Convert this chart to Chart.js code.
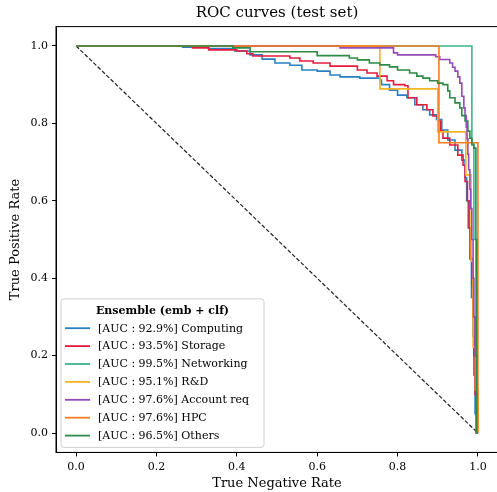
<!DOCTYPE html>
<html>
<head>
<meta charset="utf-8">
<script src="https://cdn.jsdelivr.net/npm/chart.js@4.4.1/dist/chart.umd.min.js"></script>
<style>
html, body { margin: 0; padding: 0; background: #fff; overflow: hidden; }
</style>
</head>
<body>
<canvas id="roc" width="500" height="492"></canvas>
<script>
// ROC points as [true negative rate, true positive rate]
const computing = [[0,1],[0.265,0.997],[0.33,0.993],[0.395,0.987],[0.433,0.977],[0.463,0.966],[0.495,0.956],[0.532,0.95],[0.562,0.938],[0.60,0.935],[0.632,0.925],[0.657,0.92],[0.706,0.917],[0.756,0.912],[0.76,0.90],[0.78,0.886],[0.80,0.873],[0.823,0.866],[0.843,0.848],[0.863,0.835],[0.88,0.822],[0.897,0.81],[0.91,0.783],[0.925,0.757],[0.943,0.731],[0.96,0.705],[0.968,0.66],[0.972,0.6],[0.976,0.53],[0.98,0.45],[0.984,0.35],[0.988,0.25],[0.99,0.15],[0.993,0.05],[0.996,0],[1,0]];
const storage = [[0,1],[0.29,0.995],[0.33,0.99],[0.40,0.987],[0.425,0.98],[0.44,0.974],[0.532,0.969],[0.557,0.961],[0.59,0.956],[0.632,0.948],[0.70,0.938],[0.724,0.93],[0.749,0.922],[0.774,0.91],[0.79,0.90],[0.818,0.897],[0.826,0.866],[0.848,0.848],[0.873,0.835],[0.888,0.819],[0.90,0.806],[0.907,0.78],[0.913,0.762],[0.93,0.744],[0.95,0.718],[0.963,0.692],[0.968,0.65],[0.974,0.6],[0.978,0.53],[0.982,0.45],[0.985,0.38],[0.988,0.3],[0.99,0.2],[0.993,0.1],[0.996,0],[1,0]];
const networking = [[0,1],[0.985,0.75],[0.99,0.5],[0.995,0.2],[0.998,0],[1,0]];
const rnd = [[0,1],[0.756,0.889],[0.90,0.778],[0.97,0.667],[0.983,0.444],[0.988,0.222],[0.994,0.111],[1,0]];
const accountReq = [[0,1],[0.657,0.995],[0.79,0.982],[0.80,0.977],[0.895,0.972],[0.905,0.965],[0.93,0.956],[0.937,0.945],[0.943,0.935],[0.95,0.92],[0.955,0.904],[0.96,0.87],[0.965,0.84],[0.968,0.82],[0.971,0.79],[0.973,0.76],[0.975,0.72],[0.977,0.68],[0.98,0.63],[0.982,0.58],[0.985,0.5],[0.988,0.4],[0.99,0.3],[0.993,0.2],[0.996,0.1],[0.998,0],[1,0]];
const hpc = [[0,1],[0.903,0.75],[1,0]];
const others = [[0,1],[0.39,0.995],[0.433,0.985],[0.60,0.975],[0.68,0.969],[0.70,0.964],[0.73,0.956],[0.756,0.951],[0.78,0.946],[0.80,0.938],[0.83,0.93],[0.848,0.922],[0.863,0.917],[0.88,0.91],[0.90,0.904],[0.913,0.90],[0.925,0.884],[0.93,0.866],[0.943,0.853],[0.955,0.84],[0.96,0.82],[0.968,0.806],[0.975,0.78],[0.98,0.762],[0.985,0.744],[0.99,0.736],[0.995,0.5],[0.997,0],[1,0]];
const diagonal = [[0,1],[1,0]];

const seriesLabels = ['[AUC : 92.9%] Computing','[AUC : 93.5%] Storage','[AUC : 99.5%] Networking','[AUC : 95.1%] R&D','[AUC : 97.6%] Account req','[AUC : 97.6%] HPC','[AUC : 96.5%] Others'];
const seriesData = [computing, storage, networking, rnd, accountReq, hpc, others];
const seriesColors = ['#2a80c2','#e31c3d','#3bb58e','#f6b422','#9549b8','#f57c21','#2f8a45'];
const legendTitle = 'Ensemble (emb + clf)';

const FONT = "'DejaVu Serif', 'Liberation Serif', serif";

function toXY(arr){
    return arr.map(p => ({x: p[0], y: p[1]}));
}

const datasets = [{
    label: 'chance',
    data: toXY(diagonal),
    borderColor: '#222',
    borderWidth: 1.2,
    borderDash: [4, 2],
    pointRadius: 0,
    order: 10
}];
seriesData.forEach((d, i) => {
    datasets.push({
        label: seriesLabels[i],
        data: toXY(d),
        borderColor: seriesColors[i],
        borderWidth: 1.6,
        pointRadius: 0,
        stepped: 'before',   // horizontal first, then drop
        fill: false,
        order: 6 - i
    });
});

// axes frame + legend box inside the plot (lower left)
const framePlugin = {
    id: 'frame',
    afterDraw(chart){
        const ctx = chart.ctx;
        const ca = chart.chartArea;
        ctx.save();
        ctx.strokeStyle = '#000';
        ctx.lineWidth = 1;
        ctx.strokeRect(ca.left, ca.top, ca.right - ca.left, ca.bottom - ca.top);

        const w = 203, h = 148.5;
        const bx = ca.left + 5, by = ca.bottom - 5 - h;
        ctx.beginPath();
        ctx.roundRect(bx, by, w, h, 3);
        ctx.fillStyle = 'rgba(255,255,255,0.85)';
        ctx.fill();
        ctx.strokeStyle = '#d0d0d0';
        ctx.lineWidth = 1;
        ctx.stroke();

        ctx.fillStyle = '#000';
        ctx.textBaseline = 'middle';
        ctx.textAlign = 'center';
        ctx.font = 'bold 11px ' + FONT;
        ctx.fillText(legendTitle, bx + w / 2, by + 12);

        ctx.textAlign = 'left';
        ctx.font = '11px ' + FONT;
        seriesLabels.forEach((lab, i) => {
            const y = by + 29.3 + i * 17.9;
            ctx.strokeStyle = seriesColors[i];
            ctx.lineWidth = 1.8;
            ctx.beginPath();
            ctx.moveTo(bx + 4, y);
            ctx.lineTo(bx + 29, y);
            ctx.stroke();
            ctx.fillText(lab, bx + 37, y + 0.5);
        });
        ctx.restore();
    }
};

function axis(title, fit){
    return {
        type: 'linear',
        min: -0.05,
        max: 1.05,
        ticks: {
            stepSize: 0.2,
            includeBounds: false,
            callback: v => v.toFixed(1),
            font: {family: FONT, size: 11},
            color: '#000',
            padding: 4
        },
        grid: {drawOnChartArea: false, drawTicks: true, tickLength: 4, color: '#000'},
        border: {color: '#000', width: 1},
        title: {display: true, text: title, font: {family: FONT, size: 13}, color: '#000', padding: {top: 8, bottom: 1}},
        afterFit: fit
    };
}

new Chart(document.getElementById('roc'), {
    type: 'line',
    data: {datasets: datasets},
    options: {
        responsive: false,
        animation: false,
        layout: {padding: {left: 0, right: 2, top: 0, bottom: 0}},
        scales: {
            x: axis('True Negative Rate', s => { s.height = 39.6; }),
            y: axis('True Positive Rate', s => { s.width = 56; })
        },
        plugins: {
            legend: {display: false},
            tooltip: {enabled: false},
            title: {
                display: true,
                text: 'ROC curves (test set)',
                fullSize: false,
                font: {family: FONT, size: 15, weight: 'normal'},
                color: '#000',
                padding: {top: 4, bottom: 4.6}
            }
        }
    },
    plugins: [framePlugin]
});
</script>
</body>
</html>
